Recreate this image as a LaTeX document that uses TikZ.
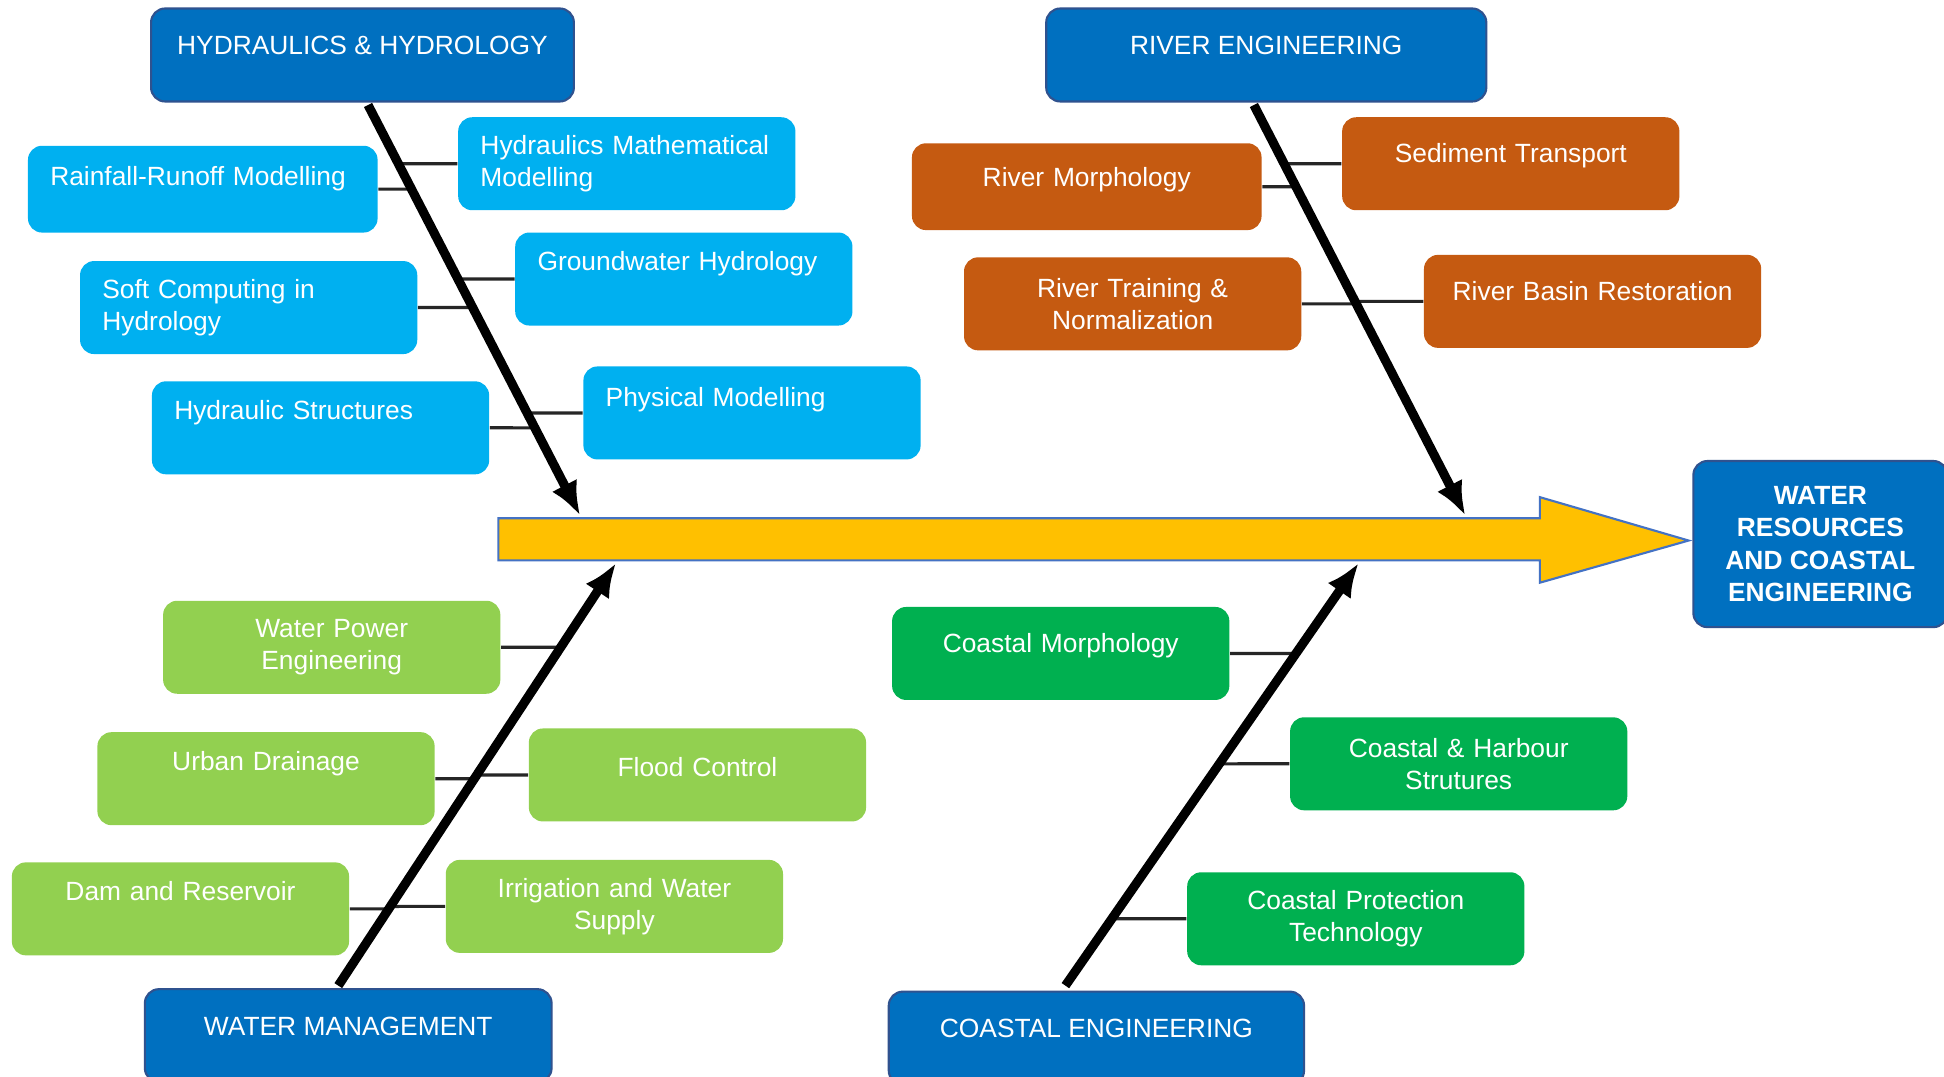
\documentclass[tikz,border=0pt]{standalone}
\usepackage{fontspec}
\setmainfont{Liberation Sans}
\usepackage{xcolor}
\usepackage{tikz}
\usetikzlibrary{arrows.meta, positioning, calc}
\definecolor{headblue}{HTML}{0070C0}
\definecolor{headedge}{HTML}{2F528F}
\definecolor{hydro}{HTML}{00B0F0}
\definecolor{river}{HTML}{C55A11}
\definecolor{manage}{HTML}{92D050}
\definecolor{coast}{HTML}{00B050}
\definecolor{axisfill}{HTML}{FFC000}
\definecolor{axisedge}{HTML}{4472C4}

\begin{document}
\begin{tikzpicture}[
  x=0.12398mm, y=-0.12398mm,
  font=\fontsize{7.5}{9.2}\selectfont,
  head/.style={draw=headedge, line width=0.6pt, fill=headblue, rounded corners=4pt,
               anchor=north west, minimum height=0.93cm, text=white, text depth=0.19cm},
  topic/.style={fill=#1, rounded corners=4pt, anchor=north west,
                minimum height=0.93cm, text width=2.926cm, inner xsep=0.223cm,
                text=white, align=center},
  lift/.style={text depth=#1},
  spine/.style={line width=2.6pt, -{Latex[length=0.34cm, width=0.28cm]}},
  rib/.style={line width=0.9pt, draw=black!85},
]
  \useasboundingbox (0,0) rectangle (1568,868);
  \fill[white] (0,0) rectangle (1568,868);

  % Main axis --- yellow arrow
  \draw[draw=axisedge, line width=0.6pt, fill=axisfill]
    (402,418) -- (1242,418) -- (1242,401) -- (1362,436)
    -- (1242,470) -- (1242,452) -- (402,452) -- cycle;
  \node[head, minimum width=2.54cm, minimum height=1.661cm, text depth=, align=center,
        font=\fontsize{7.5}{9.2}\selectfont\bfseries] (wrce) at (1365,371)
    {WATER\\RESOURCES\\AND COASTAL\\ENGINEERING};

  % Category heads
  \node[head, minimum width=4.228cm] (hh) at (121,6) {HYDRAULICS \& HYDROLOGY};
  \node[head, minimum width=4.401cm] (re) at (843,6) {RIVER ENGINEERING};
  \node[head, minimum width=4.067cm] (wm) at (116,797) {WATER MANAGEMENT};
  \node[head, minimum width=4.153cm] (ce) at (716,799) {COASTAL ENGINEERING};

  % Hydraulics & hydrology
  \node[topic=hydro, align=left, text width=3.05cm, minimum height=0.868cm, lift=0.27cm]
    (rain) at (22,117) {Rainfall-Runoff Modelling};
  \node[topic=hydro, align=left] (hmm) at (369,94) {Hydraulics Mathematical\\Modelling};
  \node[topic=hydro, align=left] (soft) at (64,210) {Soft Computing in\\Hydrology};
  \node[topic=hydro, align=left, lift=0.36cm] (gw) at (415,187) {Groundwater Hydrology};
  \node[topic=hydro, align=left, lift=0.35cm] (hs) at (122,307) {Hydraulic Structures};
  \node[topic=hydro, align=left, lift=0.31cm] (pm) at (470,295) {Physical Modelling};

  % River engineering
  \node[topic=river, text width=3.05cm, minimum height=0.868cm, lift=0.2cm]
    (rm) at (735,115) {River Morphology};
  \node[topic=river, lift=0.21cm] (sed) at (1082,94) {Sediment Transport};
  \node[topic=river] (rt) at (777,207) {River Training \&\\Normalization};
  \node[topic=river, lift=0.21cm] (rb) at (1148,205) {River Basin Restoration};

  % Water management
  \node[topic=manage] (wp) at (131,484) {Water Power\\Engineering};
  \node[topic=manage, lift=0.36cm] (ud) at (78,590) {Urban Drainage};
  \node[topic=manage, lift=0.16cm] (fc) at (426,587) {Flood Control};
  \node[topic=manage, lift=0.35cm] (dr) at (9,695) {Dam and Reservoir};
  \node[topic=manage] (iw) at (359,693) {Irrigation and Water\\Supply};

  % Coastal engineering
  \node[topic=coast, lift=0.21cm] (cm) at (719,489) {Coastal Morphology};
  \node[topic=coast] (chs) at (1040,578) {Coastal \& Harbour\\Strutures};
  \node[topic=coast] (cpt) at (957,703) {Coastal Protection\\Technology};

  % Spine ends
  \coordinate (hhTail) at ($(hh.south)+(4.5,2)$);
  \coordinate (reTail) at ($(re.south)+(-10,2)$);
  \coordinate (wmTail) at ($(wm.north)+(-8,-2)$);
  \coordinate (ceTail) at ($(ce.north)+(-25,-4)$);
  \coordinate (hhTip) at (468,416);
  \coordinate (reTip) at (1182,416);
  \coordinate (wmTip) at (497,454);
  \coordinate (ceTip) at (1096,454);

  % Ribs
  \foreach \b in {rain, soft, hs}
    \draw[rib] (\b.east) -- (intersection of hhTail--hhTip and \b.east--\b.west);
  \foreach \b in {hmm, gw, pm}
    \draw[rib] (intersection of hhTail--hhTip and \b.east--\b.west) -- (\b.west);
  \foreach \b in {rm, rt}
    \draw[rib] (\b.east) -- (intersection of reTail--reTip and \b.east--\b.west);
  \foreach \b in {sed, rb}
    \draw[rib] (intersection of reTail--reTip and \b.east--\b.west) -- (\b.west);
  \foreach \b in {wp, ud, dr}
    \draw[rib] (\b.east) -- (intersection of wmTail--wmTip and \b.east--\b.west);
  \foreach \b in {fc, iw}
    \draw[rib] (intersection of wmTail--wmTip and \b.east--\b.west) -- (\b.west);
  \draw[rib] (cm.east) -- (intersection of ceTail--ceTip and cm.east--cm.west);
  \foreach \b in {chs, cpt}
    \draw[rib] (intersection of ceTail--ceTip and \b.east--\b.west) -- (\b.west);

  % Spines
  \draw[spine] (hhTail) -- (hhTip);
  \draw[spine] (reTail) -- (reTip);
  \draw[spine] (wmTail) -- (wmTip);
  \draw[spine] (ceTail) -- (ceTip);
\end{tikzpicture}
\end{document}
